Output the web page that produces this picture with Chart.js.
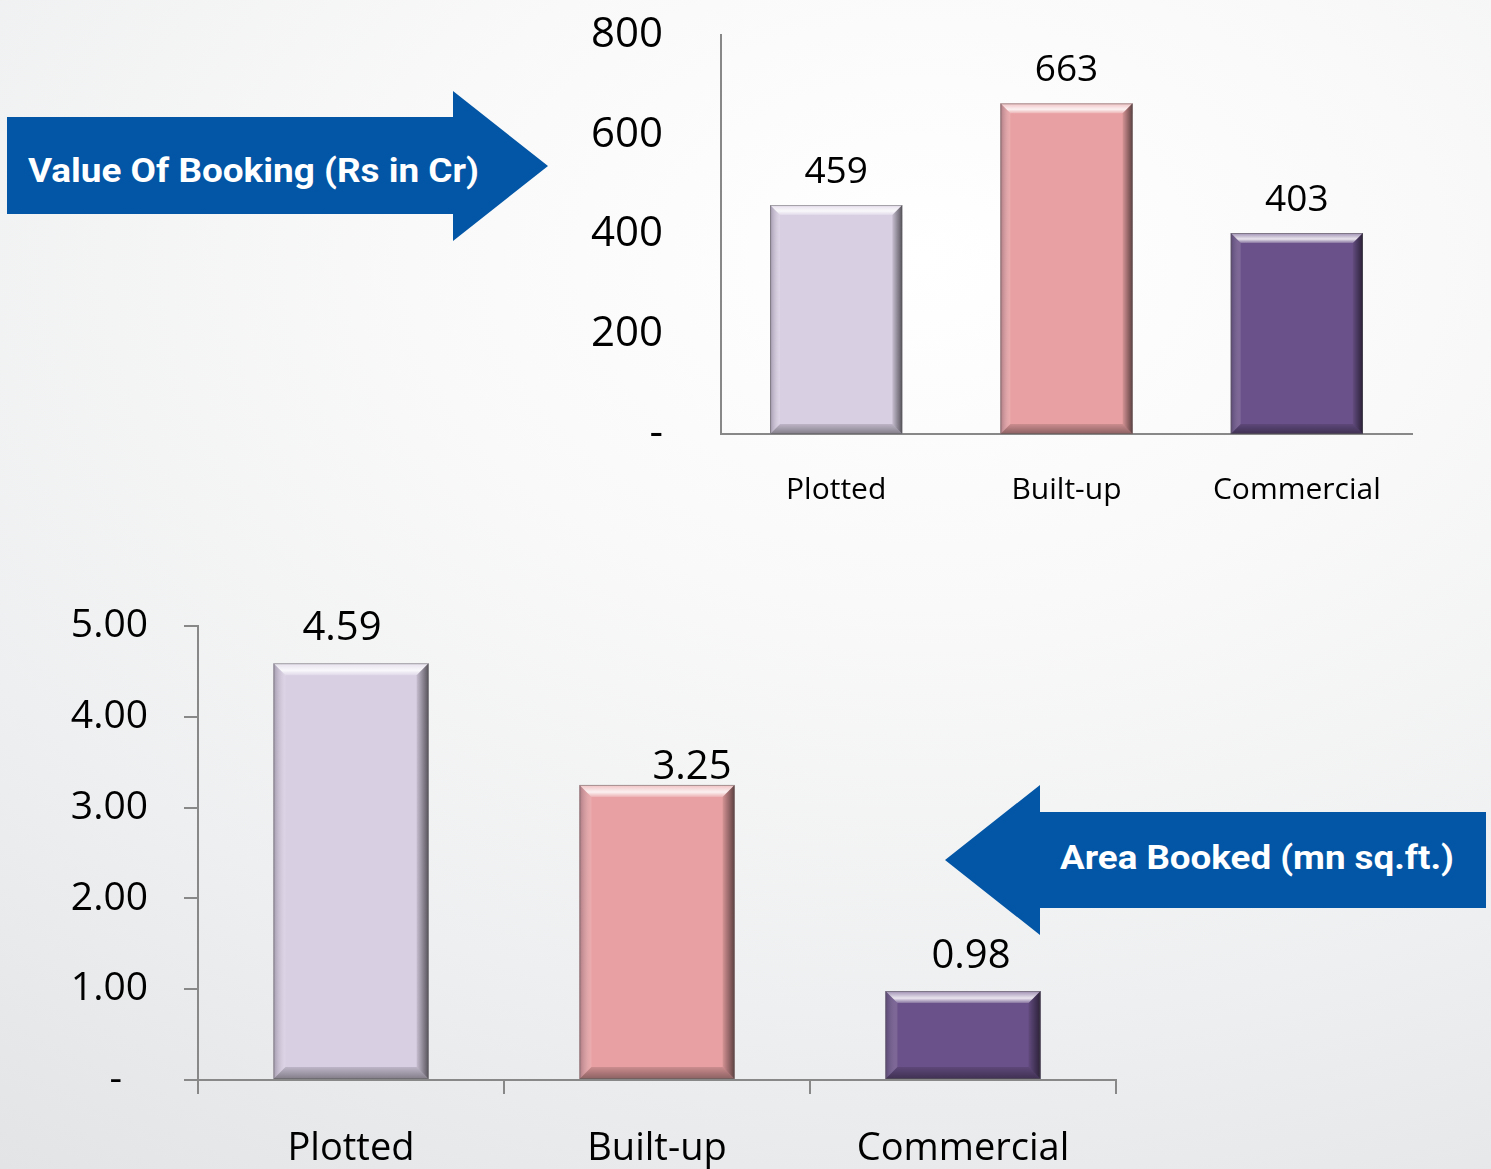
<!DOCTYPE html>
<html>
<head>
<meta charset="utf-8">
<script src="https://cdn.jsdelivr.net/npm/chart.js@4.4.0/dist/chart.umd.min.js"></script>
<style>
html, body { margin: 0; padding: 0; }
body {
  width: 1491px; height: 1169px; overflow: hidden; position: relative;
  background: radial-gradient(ellipse 115% 100% at 62% 22%, #ffffff 0%, #f9f9f9 30%, #eeeff0 65%, #e1e2e4 100%);
}
#arrows { position: absolute; left: 0; top: 0; }
#topWrap { position: absolute; left: 520px; top: 0; }
#bottomWrap { position: absolute; left: 0; top: 560px; }
</style>
</head>
<body>
<svg id="arrows" width="1491" height="1169">
  <polygon points="7,117 453,117 453,91 548,166 453,241 453,214 7,214" fill="#0356a5"/>
  <text x="28" y="182" font-family="Roboto" font-weight="bold" font-size="33" fill="#ffffff"
        textLength="451" lengthAdjust="spacingAndGlyphs">Value Of Booking (Rs in Cr)</text>
  <polygon points="945,860 1040,785 1040,812 1486,812 1486,908 1040,908 1040,935" fill="#0356a5"/>
  <text x="1060" y="869" font-family="Roboto" font-weight="bold" font-size="33" fill="#ffffff"
        textLength="394" lengthAdjust="spacingAndGlyphs">Area Booked (mn sq.ft.)</text>
</svg>
<div id="topWrap"><canvas id="topChart" width="940" height="540"></canvas></div>
<div id="bottomWrap"><canvas id="bottomChart" width="1200" height="609"></canvas></div>

<script>
// data
const categories = ['Plotted', 'Built-up', 'Commercial'];
const bookingValues = [459, 663, 403];      // Rs in Cr
const areaValues = [4.59, 3.25, 0.98];      // mn sq.ft.
const bookingTicks = [0, 200, 400, 600, 800];
const areaTicks = [0, 1, 2, 3, 4, 5];
const barColors = ['#d8cfe3', '#e8a0a2', '#6a5189'];

const axisGray = '#888888';

// fake the bevelled look of the bars
const bevel = {
  id: 'bevel',
  afterDatasetsDraw(chart, args, opts) {
    const ctx = chart.ctx;
    const b = opts.size || 11;
    chart.getDatasetMeta(0).data.forEach(bar => {
      const l = bar.x - bar.width / 2, r = bar.x + bar.width / 2;
      const t = bar.y, btm = bar.base;
      ctx.save();
      // top
      let g = ctx.createLinearGradient(0, t, 0, t + b);
      g.addColorStop(0, 'rgba(255,255,255,0.35)');
      g.addColorStop(0.6, 'rgba(255,255,255,0.85)');
      g.addColorStop(1, 'rgba(255,255,255,0.2)');
      ctx.fillStyle = g;
      ctx.beginPath();
      ctx.moveTo(l, t); ctx.lineTo(r, t); ctx.lineTo(r - b, t + b); ctx.lineTo(l + b, t + b);
      ctx.closePath(); ctx.fill();
      // left
      g = ctx.createLinearGradient(l, 0, l + b, 0);
      g.addColorStop(0, 'rgba(60,50,70,0.35)');
      g.addColorStop(1, 'rgba(255,255,255,0.12)');
      ctx.fillStyle = g;
      ctx.beginPath();
      ctx.moveTo(l, t); ctx.lineTo(l + b, t + b); ctx.lineTo(l + b, btm - b); ctx.lineTo(l, btm);
      ctx.closePath(); ctx.fill();
      // right
      g = ctx.createLinearGradient(r - b, 0, r, 0);
      g.addColorStop(0, 'rgba(0,0,0,0.08)');
      g.addColorStop(1, 'rgba(0,0,0,0.6)');
      ctx.fillStyle = g;
      ctx.beginPath();
      ctx.moveTo(r, t); ctx.lineTo(r, btm); ctx.lineTo(r - b, btm - b); ctx.lineTo(r - b, t + b);
      ctx.closePath(); ctx.fill();
      // bottom
      g = ctx.createLinearGradient(0, btm - b, 0, btm);
      g.addColorStop(0, 'rgba(0,0,0,0.12)');
      g.addColorStop(1, 'rgba(0,0,0,0.4)');
      ctx.fillStyle = g;
      ctx.beginPath();
      ctx.moveTo(l, btm); ctx.lineTo(l + b, btm - b); ctx.lineTo(r - b, btm - b); ctx.lineTo(r, btm);
      ctx.closePath(); ctx.fill();
      ctx.strokeStyle = 'rgba(90,90,90,0.5)';
      ctx.lineWidth = 1;
      ctx.strokeRect(l + 0.5, t + 0.5, r - l - 1, btm - t - 1);
      ctx.restore();
    });
  }
};

// value labels above bars
const valueLabels = {
  id: 'valueLabels',
  afterDatasetsDraw(chart, args, opts) {
    const ctx = chart.ctx;
    const ds = chart.data.datasets[0];
    ctx.save();
    ctx.font = opts.size + 'px "Open Sans"';
    ctx.fillStyle = '#000';
    ctx.textAlign = 'center';
    ctx.textBaseline = 'alphabetic';
    chart.getDatasetMeta(0).data.forEach((bar, i) => {
      const off = (opts.offsets && opts.offsets[i]) || [0, 0];
      ctx.fillText(opts.format(ds.data[i]), bar.x + off[0], bar.y - opts.gap + off[1]);
    });
    ctx.restore();
  }
};

Chart.register(bevel, valueLabels);

let top_chart = new Chart(document.getElementById('topChart'), {
  type: 'bar',
  data: {
    labels: categories,
    datasets: [{
      data: bookingValues,
      backgroundColor: barColors,
      borderWidth: 0,
      categoryPercentage: 1,
      barPercentage: 0.574
    }]
  },
  options: {
    responsive: false,
    animation: false,
    layout: { padding: { top: 35, right: 48, left: 0, bottom: 0 } },
    plugins: {
      legend: { display: false },
      tooltip: { enabled: false },
      bevel: { size: 10 },
      valueLabels: { size: 37, gap: 22, format: v => String(v) }
    },
    scales: {
      x: {
        grid: { display: false, drawTicks: false },
        border: { color: axisGray, width: 2 },
        ticks: { color: '#000', font: { family: 'Open Sans', size: 30 }, padding: 38 },
        afterFit(s) { s.height = 106; }
      },
      y: {
        min: 0, max: 800,
        // invisible tick marks only push the labels away from the axis
        grid: { display: false, drawTicks: true, tickLength: 50, color: 'rgba(0,0,0,0)' },
        border: { color: axisGray, width: 2 },
        ticks: {
          color: '#000', font: { family: 'Open Sans', size: 42 }, padding: 8,
          callback: v => v === 0 ? '-' : v
        },
        afterBuildTicks(s) { s.ticks = bookingTicks.map(v => ({ value: v })); },
        afterFit(s) { s.width = 201; }
      }
    }
  }
});

let bottom_chart = new Chart(document.getElementById('bottomChart'), {
  type: 'bar',
  data: {
    labels: categories,
    datasets: [{
      data: areaValues,
      backgroundColor: barColors,
      borderWidth: 0,
      categoryPercentage: 1,
      barPercentage: 0.507
    }]
  },
  options: {
    responsive: false,
    animation: false,
    layout: { padding: { top: 66, right: 84, left: 0, bottom: 0 } },
    plugins: {
      legend: { display: false },
      tooltip: { enabled: false },
      bevel: { size: 12 },
      valueLabels: {
        size: 40, gap: 23, format: v => v.toFixed(2),
        offsets: [[-9, 0], [35, 17], [8, 0]]
      }
    },
    scales: {
      x: {
        grid: { drawOnChartArea: false, drawTicks: true, tickLength: 14, color: axisGray, lineWidth: 2, offset: true },
        border: { color: axisGray, width: 2 },
        ticks: { color: '#000', font: { family: 'Open Sans', size: 38 }, padding: 32 },
        afterFit(s) { s.height = 89; }
      },
      y: {
        min: 0, max: 5,
        grid: { drawOnChartArea: false, drawTicks: true, tickLength: 14, color: axisGray, lineWidth: 2 },
        border: { color: axisGray, width: 2 },
        ticks: {
          color: '#000', font: { family: 'Open Sans', size: 39 }, padding: 36,
          callback: v => v === 0 ? '-\u2002\u2009' : v.toFixed(2)
        },
        afterBuildTicks(s) { s.ticks = areaTicks.map(v => ({ value: v })); },
        afterFit(s) { s.width = 198; }
      }
    }
  }
});
</script>
</body>
</html>
